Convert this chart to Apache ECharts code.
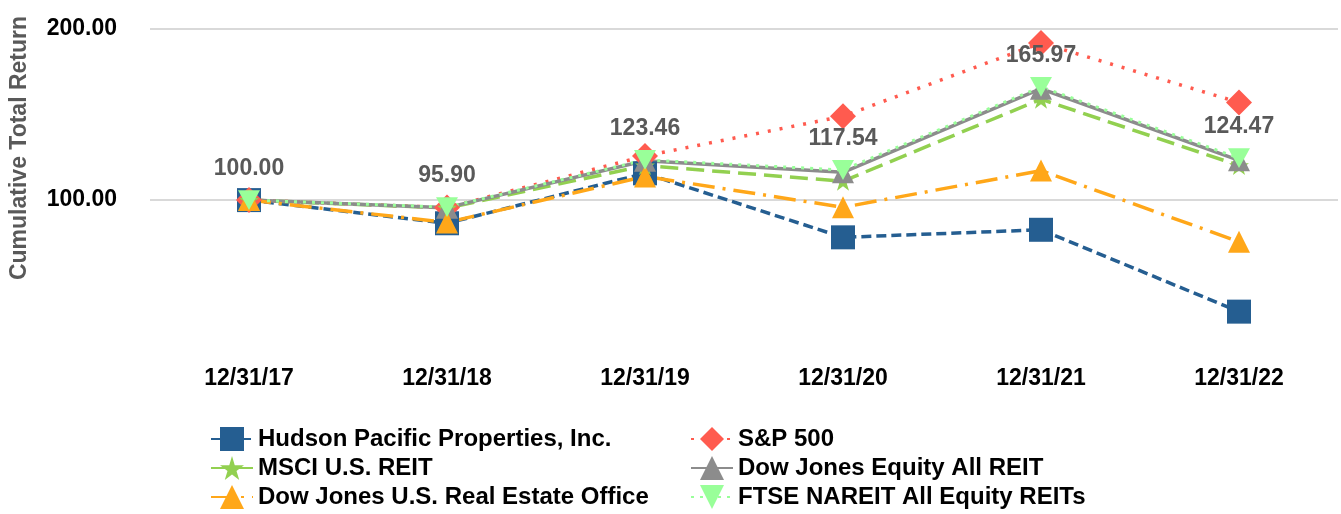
<!DOCTYPE html>
<html>
<head>
<meta charset="utf-8">
<script src="https://cdn.jsdelivr.net/npm/echarts@6/dist/echarts.min.js"></script>
<style>
  html, body { margin: 0; padding: 0; background: #fff; }
  #chart { width: 1341px; height: 514px; }
</style>
</head>
<body>
<div id="chart"></div>
<script>
// 数据
var dates = ['12/31/17', '12/31/18', '12/31/19', '12/31/20', '12/31/21', '12/31/22'];
var hudson = [100, 86.5, 115.6, 78.3, 82.7, 35.0];
var sp500 = [100, 95.62, 125.72, 148.85, 191.58, 156.88];
var msci = [100, 95.4, 120.1, 111.0, 158.8, 120.2];
var djEquity = [100, 95.6, 122.9, 116.2, 164.9, 123.2];
var djOffice = [100, 87.0, 113.8, 95.8, 117.2, 75.7];
var ftse = [100, 95.90, 123.46, 117.54, 165.97, 124.47];
var yTicks = [0, 100, 200];

var starPath = 'path://M50,0 L61,35 L98,35 L68,57 L79,91 L50,70 L21,91 L32,57 L2,35 L39,35 Z';
var downTriangle = 'path://M0,0 L100,0 L50,90 Z';
var font = '"Liberation Sans", Arial, sans-serif';

// 图例文字样式
var legendText = { fontFamily: font, fontWeight: 'bold', fontSize: 24, color: '#000', lineHeight: 24 };

var chart = echarts.init(document.getElementById('chart'));
chart.setOption({
    animation: false,
    backgroundColor: '#fff',
    grid: {
        left: 150,
        right: 3,
        top: 28.5,
        bottom: 142.3
    },
    graphic: [{
        type: 'text',
        x: 20,
        y: 148,
        rotation: Math.PI / 2,
        style: {
            text: 'Cumulative Total Return',
            fill: '#595959',
            font: 'bold 23px ' + font,
            textAlign: 'center',
            textVerticalAlign: 'middle'
        }
    }],
    legend: [{
        orient: 'vertical',
        left: 210,
        top: 427,
        height: 100,
        padding: 0,
        itemWidth: 42,
        itemHeight: 30,
        itemGap: 5,
        textStyle: legendText,
        data: ['Hudson Pacific Properties, Inc.', 'MSCI U.S. REIT', 'Dow Jones U.S. Real Estate Office']
    }, {
        orient: 'vertical',
        left: 690,
        top: 427,
        height: 100,
        padding: 0,
        itemWidth: 42,
        itemHeight: 30,
        itemGap: 5,
        textStyle: legendText,
        data: ['S&P 500', 'Dow Jones Equity All REIT', 'FTSE NAREIT All Equity REITs']
    }],
    xAxis: {
        type: 'category',
        data: dates,
        axisLine: { show: false },
        axisTick: { show: false },
        axisLabel: {
            margin: -5,
            fontFamily: font,
            fontWeight: 'bold',
            fontSize: 23,
            color: '#000'
        }
    },
    yAxis: {
        type: 'value',
        min: yTicks[0],
        max: yTicks[yTicks.length - 1],
        interval: 100,
        axisLine: { show: false },
        axisTick: { show: false },
        axisLabel: {
            margin: 33,
            fontFamily: font,
            fontWeight: 'bold',
            fontSize: 23,
            color: '#000',
            formatter: function (v) {
                return v === 0 ? '' : v.toFixed(2);
            }
        },
        splitLine: {
            lineStyle: {
                color: ['rgba(0,0,0,0)', '#d9d9d9', '#d9d9d9'],
                width: 2
            }
        }
    },
    series: [{
        name: 'Hudson Pacific Properties, Inc.',
        type: 'line',
        data: hudson,
        symbol: 'rect',
        symbolSize: 24,
        color: '#255e91',
        lineStyle: { width: 3.5, type: [10, 5], color: '#255e91' }
    }, {
        name: 'S&P 500',
        type: 'line',
        data: sp500,
        symbol: 'diamond',
        symbolSize: [26, 26],
        color: '#ff5b4f',
        lineStyle: { width: 3.5, type: [3, 9], color: '#ff5b4f' }
    }, {
        name: 'MSCI U.S. REIT',
        type: 'line',
        data: msci,
        symbol: starPath,
        symbolKeepAspect: true,
        symbolSize: 20,
        color: '#92d050',
        lineStyle: { width: 3.5, type: [18, 8], color: '#92d050' }
    }, {
        name: 'Dow Jones Equity All REIT',
        type: 'line',
        data: djEquity,
        symbol: 'triangle',
        symbolSize: 22,
        color: '#8c8c8c',
        lineStyle: { width: 3.5, type: 'solid', color: '#8c8c8c' }
    }, {
        name: 'Dow Jones U.S. Real Estate Office',
        type: 'line',
        data: djOffice,
        symbol: 'triangle',
        symbolSize: 22,
        color: '#ffa719',
        lineStyle: { width: 3.5, type: [22, 8, 3, 8], color: '#ffa719' }
    }, {
        name: 'FTSE NAREIT All Equity REITs',
        type: 'line',
        data: ftse,
        symbol: downTriangle,
        symbolKeepAspect: true,
        symbolSize: 22,
        color: '#99ff99',
        lineStyle: { width: 3, type: [3, 6], color: '#99ff99' },
        label: {
            show: true,
            position: 'top',
            distance: 10,
            fontFamily: font,
            fontWeight: 'bold',
            fontSize: 23,
            color: '#595959',
            formatter: function (p) {
                return p.value.toFixed(2);
            }
        }
    }]
});
</script>
</body>
</html>
